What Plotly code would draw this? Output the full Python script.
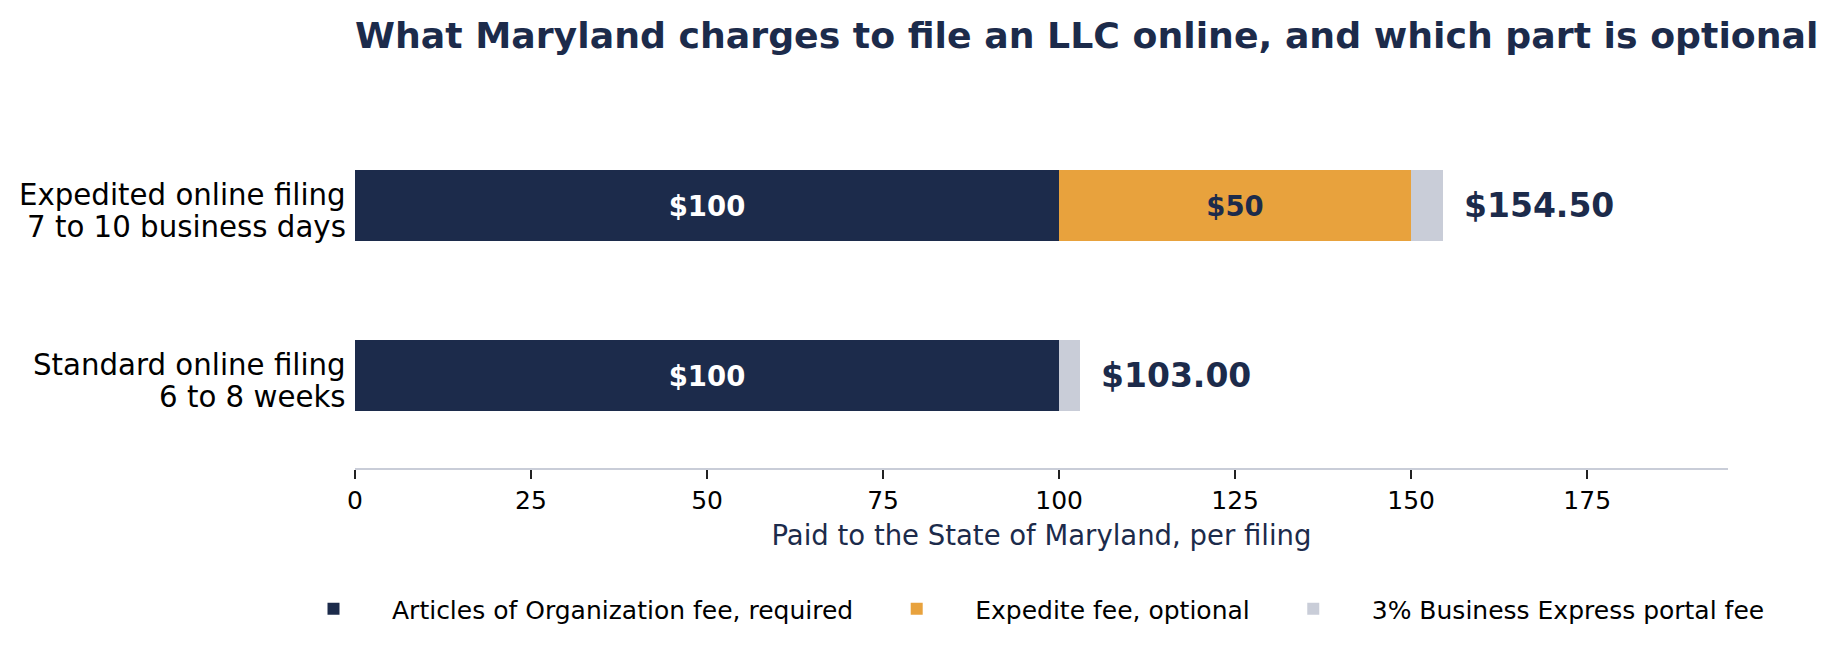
import plotly.graph_objects as go

# filings, bottom to top
filings = ["Standard online filing", "Expedited online filing"]
timing = ["6 to 8 weeks", "7 to 10 business days"]

articles_fee = [100, 100]
expedite_fee = [0, 50]
portal_fee = [3.00, 4.50]
totals = [103.00, 154.50]

articles_text = ["$100", "$100"]
expedite_text = ["", "$50"]

x_ticks = [0, 25, 50, 75, 100, 125, 150, 175]

NAVY = "#1C2B4B"
ORANGE = "#E8A23D"
GREY = "#C9CDD8"
FONT = "DejaVu Sans"

# page has an 8px body margin, so the figure is drawn 16px smaller
W, H = 1819, 637
L, R, T, B = 347, 99, 105, 177
plot_w, plot_h = W - L - R, H - T - B

fig = go.Figure()

fig.add_trace(go.Bar(
    y=filings, x=articles_fee, orientation="h", width=0.42,
    name="Articles of Organization fee, required",
    marker=dict(color=NAVY, line=dict(width=0)),
    text=articles_text, textposition="inside", insidetextanchor="middle",
    textangle=0,
    textfont=dict(family=FONT, size=27.5, color="white", weight="bold"),
))
fig.add_trace(go.Bar(
    y=filings, x=expedite_fee, orientation="h", width=0.42,
    name="Expedite fee, optional",
    marker=dict(color=ORANGE, line=dict(width=0)),
    text=expedite_text, textposition="inside", insidetextanchor="middle",
    textangle=0,
    textfont=dict(family=FONT, size=27.5, color=NAVY, weight="bold"),
))
fig.add_trace(go.Bar(
    y=filings, x=portal_fee, orientation="h", width=0.42,
    name="3% Business Express portal fee",
    marker=dict(color=GREY, line=dict(width=0)),
    textposition="none",
))

# total at the end of each bar
for f, t in zip(filings, totals):
    fig.add_annotation(
        x=t + 3, y=f, xref="x", yref="y", text=f"${t:.2f}",
        showarrow=False, xanchor="left", yanchor="middle", xshift=-2,
        font=dict(family=FONT, size=33, color=NAVY, weight="bold"),
    )

# two-line category labels, tighter than plotly's tick label line spacing
for f, t in zip(filings, timing):
    for line, shift in ((f, 10.5), (t, -21.5)):
        fig.add_annotation(
            x=0, y=f, xref="paper", yref="y", text=line,
            showarrow=False, xanchor="right", yanchor="middle",
            xshift=-7, yshift=shift,
            font=dict(family=FONT, size=29.25, color="black"),
        )

fig.update_layout(
    width=W, height=H,
    margin=dict(l=L, r=R, t=T, b=B),
    paper_bgcolor="white", plot_bgcolor="white",
    barmode="stack", bargap=0,
    font=dict(family=FONT, color="black"),
    title=dict(
        text="What Maryland charges to file an LLC online, and which part is optional",
        x=0, xref="paper", xanchor="left",
        y=1 - 27 / H, yref="container", yanchor="middle",
        font=dict(family=FONT, size=36.25, color=NAVY, weight="bold"),
    ),
    legend=dict(
        orientation="h",
        x=(267 - L) / plot_w, xref="paper", xanchor="left",
        y=-(601 - (H - B)) / plot_h, yref="paper", yanchor="middle",
        font=dict(family=FONT, size=25, color="black"),
        traceorder="normal", itemwidth=107,
    ),
    showlegend=True,
)

fig.update_xaxes(
    range=[0, 195], tickvals=x_ticks, showgrid=False, zeroline=False,
    showline=True, linecolor=GREY, linewidth=2,
    ticks="outside", ticklen=9, tickwidth=2, tickcolor="#222222",
    tickfont=dict(family=FONT, size=25, color="black"),
    title=dict(text="Paid to the State of Maryland, per filing",
               font=dict(family=FONT, size=27.5, color=NAVY), standoff=12),
)
fig.update_yaxes(
    type="category", categoryorder="array", categoryarray=filings,
    range=[-0.55, 1.55], showticklabels=False, showgrid=False,
    zeroline=False, showline=False, ticks="",
)

fig.write_html("out.html")
